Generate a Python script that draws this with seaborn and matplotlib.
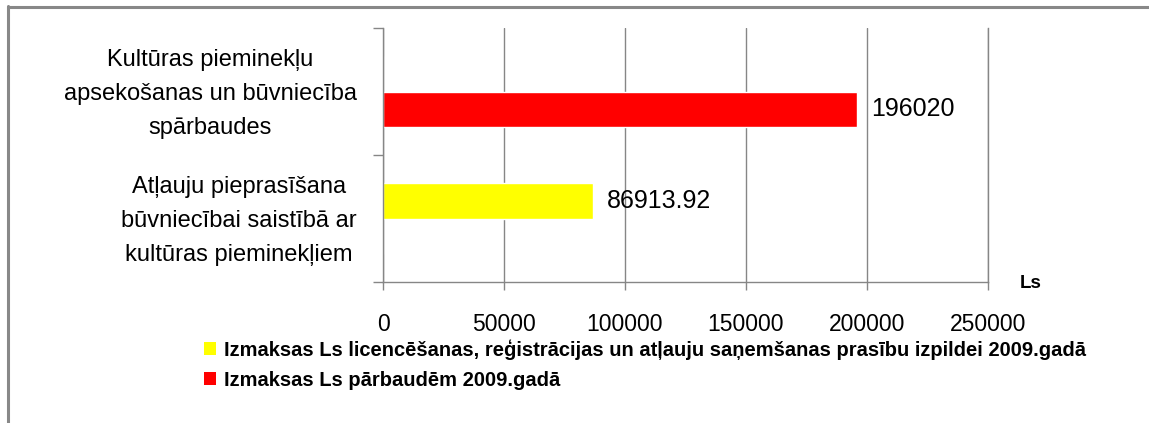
import matplotlib
matplotlib.use("Agg")
import matplotlib.pyplot as plt
from matplotlib.patches import Patch
from matplotlib.lines import Line2D
import matplotlib.transforms as mtransforms
import pandas as pd
import seaborn as sb

# chart data
categories = [
    "Kultūras pieminekļu\napsekošanas un būvniecība\nspārbaudes",
    "Atļauju pieprasīšana\nbūvniecībai saistībā ar\nkultūras pieminekļiem",
]
series = [
    "Izmaksas Ls licencēšanas, reģistrācijas un atļauju saņemšanas prasību izpildei 2009.gadā",
    "Izmaksas Ls pārbaudēm 2009.gadā",
]
licence_costs = [0, 86913.92]
inspection_costs = [196020, 0]
colors = ["#FFFF00", "#FF0000"]
x_ticks = [0, 50000, 100000, 150000, 200000, 250000]
unit_label = "Ls"

df = pd.DataFrame({
    "category": categories * 2,
    "series": [series[0]] * len(categories) + [series[1]] * len(categories),
    "value": licence_costs + inspection_costs,
})

sb.set_style("white")
plt.rcParams['font.family'] = ['Liberation Sans', 'DejaVu Sans']
plt.rcParams['text.color'] = 'black'
plt.rcParams['xtick.color'] = 'black'
plt.rcParams['ytick.color'] = 'black'
grid_gray = "#868686"

W, H = 1149, 423
fig = plt.figure(figsize=(W / 100, H / 100), dpi=100)
ax = fig.add_axes([383 / W, 141 / H, 605 / W, 254 / H])

sb.barplot(
    data=df, y="category", x="value", hue="series",
    order=categories, hue_order=series, palette=colors, saturation=1,
    width=0.56, orient="h", errorbar=None, legend=False, ax=ax,
)

def fmt(v):
    return ("%.2f" % v).rstrip("0").rstrip(".")

for cont in ax.containers:
    ax.bar_label(cont, labels=[fmt(v) if v else "" for v in cont.datavalues],
                 padding=10, fontsize=18, color="black")

# y axis: ticks on category boundaries, labels in the middle
ax.set_ylim(1.5, -0.5)
ax.set_yticks([-0.5, 0.5, 1.5])
ax.set_yticklabels([])
ax.set_yticks([0, 1], minor=True)
ax.set_yticklabels(categories, minor=True, fontsize=17, linespacing=1.7,
                   multialignment="center", color="black")
ax.tick_params(axis="y", which="major", length=7, width=1, color=grid_gray,
               direction="out", left=True)
ax.tick_params(axis="y", which="minor", length=0, pad=19)
# nudge the category labels up a little
nudge = mtransforms.ScaledTranslation(0, 6 / 100, fig.dpi_scale_trans)
for lbl in ax.get_yticklabels(minor=True):
    lbl.set_transform(lbl.get_transform() + nudge)

ax.set_xlim(0, 250000)
ax.set_xticks(x_ticks)
ax.set_xticklabels([str(t) for t in x_ticks])
ax.tick_params(axis="x", length=6, width=1, color=grid_gray, direction="out",
               bottom=True, pad=16, labelsize=16.5, labelcolor="black")
ax.xaxis.grid(True, color=grid_gray, lw=1)
ax.yaxis.grid(False)
ax.set_axisbelow(True)
ax.set_xlabel("")
ax.set_ylabel("")

for s in ["left", "bottom", "right"]:
    ax.spines[s].set_color(grid_gray)
    ax.spines[s].set_linewidth(1)
ax.spines["top"].set_visible(False)

fig.text(1031 / W, 1 - 283 / H, unit_label, ha="center", va="center",
         fontsize=13.5, fontweight="bold", color="black")

handles = [Patch(facecolor=c, edgecolor="none") for c in colors]
leg = fig.legend(handles, series, loc="upper left", bbox_to_anchor=(204 / W, 1 - 339 / H),
                 frameon=False, prop={"size": 14.5, "weight": "bold"},
                 handlelength=0.6, handleheight=0.6, handletextpad=0.4,
                 labelspacing=0.55, borderpad=0, borderaxespad=0)
for t in leg.get_texts():
    t.set_color("black")

# outer frame (left and top edges)
fig.add_artist(Line2D([7.5 / W, 7.5 / W], [0, 1 - 6 / H], transform=fig.transFigure,
                      color="#888888", lw=2.2))
fig.add_artist(Line2D([7.5 / W, 1], [1 - 7 / H, 1 - 7 / H], transform=fig.transFigure,
                      color="#888888", lw=2.2))

fig.savefig("out.png", dpi=100)
